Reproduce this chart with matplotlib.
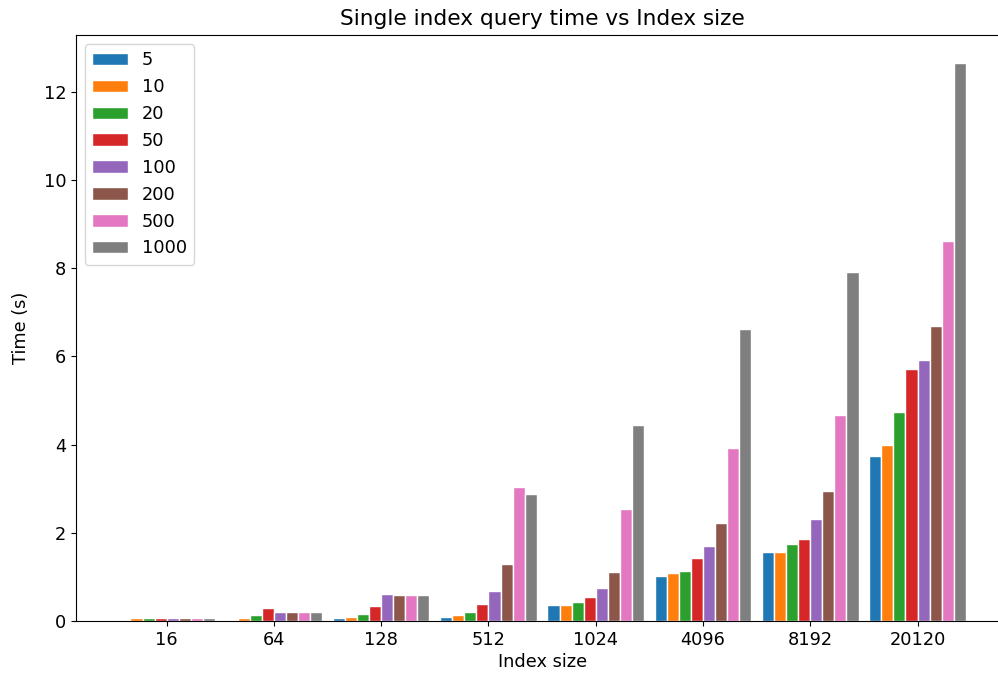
import numpy as np
import matplotlib
matplotlib.use("Agg")
import matplotlib.pyplot as plt

# tamanhos de indice (eixo x)
index_sizes = ["16", "64", "128", "512", "1024", "4096", "8192", "20120"]

# numero de consultas -> series
query_counts = ["5", "10", "20", "50", "100", "200", "500", "1000"]

# tempos (s) por serie, um valor por tamanho de indice
t_5 = [0.03, 0.03, 0.07, 0.10, 0.36, 1.02, 1.56, 3.75]
t_10 = [0.07, 0.07, 0.09, 0.13, 0.36, 1.08, 1.56, 3.98]
t_20 = [0.07, 0.13, 0.15, 0.21, 0.43, 1.13, 1.74, 4.75]
t_50 = [0.07, 0.30, 0.33, 0.39, 0.54, 1.42, 1.85, 5.71]
t_100 = [0.07, 0.21, 0.62, 0.68, 0.74, 1.69, 2.31, 5.91]
t_200 = [0.07, 0.21, 0.58, 1.29, 1.11, 2.23, 2.95, 6.70]
t_500 = [0.07, 0.21, 0.58, 3.03, 2.55, 3.92, 4.67, 8.62]
t_1000 = [0.07, 0.21, 0.58, 2.89, 4.44, 6.61, 7.91, 12.65]

tempos = [t_5, t_10, t_20, t_50, t_100, t_200, t_500, t_1000]

# a imagem original parece ter sido gerada com fonte maior
plt.rcParams["font.size"] = 12.8
plt.rcParams["axes.titlesize"] = 15.6

fig = plt.figure(figsize=(9.98, 6.77), dpi=100)
ax = fig.add_axes([0.0762, 0.0827, 0.934, 0.8653])

x = np.arange(len(index_sizes))
n = len(query_counts)
w = 0.9 / n

for i, (label, vals) in enumerate(zip(query_counts, tempos)):
    pos = x - 0.45 + w / 2 + i * w
    ax.bar(pos, vals, width=w, label=label, edgecolor="white", linewidth=1)

ax.set_xticks(x)
ax.set_xticklabels(index_sizes)
ax.set_xlabel("Index size", labelpad=3)
ax.set_ylabel("Time (s)", labelpad=10)
ax.set_title("Single index query time vs Index size", pad=7)
ax.spines["right"].set_visible(False)
ax.legend(loc="upper left")

fig.savefig("out.png", dpi=100)
